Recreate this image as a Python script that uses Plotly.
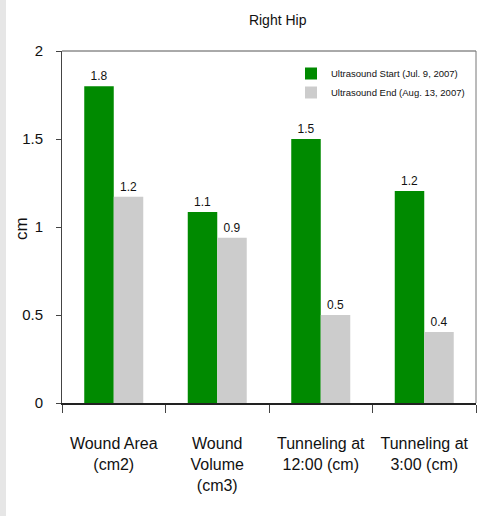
import plotly.graph_objects as go

categories = ["Wound Area<br>(cm2)", "Wound<br>Volume<br>(cm3)", "Tunneling at<br>12:00 (cm)", "Tunneling at<br>3:00 (cm)"]
start_values = [1.80, 1.085, 1.50, 1.205]
end_values = [1.172, 0.939, 0.50, 0.403]
series_names = ["Ultrasound Start (Jul. 9, 2007)", "Ultrasound End (Aug. 13, 2007)"]
y_ticks = [0, 0.5, 1, 1.5, 2]
y_title = "cm"

FONT = "Liberation Sans, Arial, sans-serif"
W, H = 477, 516
ML, MR, MT, MB = 62, 1, 51, 113
PW = W - ML - MR
PH = H - MT - MB

fig = go.Figure()
for vals, name, color in [(start_values, series_names[0], "#008a00"),
                          (end_values, series_names[1], "#cccccc")]:
    fig.add_trace(go.Bar(
        x=categories, y=vals, name=name,
        marker=dict(color=color, line=dict(width=0)),
        texttemplate="%{y:.1f}", textposition="outside",
        textfont=dict(family=FONT, size=12, color="#111111"), cliponaxis=False,
    ))

fig.update_layout(
    width=W, height=H,
    margin=dict(l=ML, r=MR, t=MT, b=MB, pad=0, autoexpand=False),
    paper_bgcolor="white", plot_bgcolor="white",
    barmode="group", bargap=0.43, bargroupgap=0,
    font=dict(family=FONT, color="#111111"),
    title=dict(text="Right Hip", x=248.5 / W, xref="paper", xanchor="center",
               y=1 - 20 / H, yanchor="middle",
               font=dict(family=FONT, size=14, color="#111111")),
    showlegend=True,
    legend=dict(x=(291 - ML) / PW, y=1 - 8 / PH, xanchor="left", yanchor="top",
                bgcolor="rgba(0,0,0,0)", borderwidth=0,
                font=dict(family=FONT, size=9.5, color="#111111"),
                tracegroupgap=2),
    xaxis=dict(
        automargin=False, tickangle=0,
        showline=True, linecolor="#222222", linewidth=2,
        ticks="outside", tickson="boundaries", ticklen=8, tickcolor="#444444", tickwidth=1,
        tickfont=dict(family=FONT, size=16, color="#111111"),
        ticklabelstandoff=25, showgrid=False,
    ),
    yaxis=dict(
        automargin=False,
        range=[0, 2], tickvals=y_ticks, showline=True, linecolor="#444444", linewidth=1,
        ticks="outside", ticklen=5, tickcolor="#444444", tickwidth=1,
        tickfont=dict(family=FONT, size=15, color="#111111"),
        ticklabelstandoff=10, showgrid=False, zeroline=False,
    ),
    annotations=[
        dict(text=y_title, textangle=-90, xref="paper", yref="paper",
             x=(22 - ML) / PW, y=(403 - 229) / PH, xanchor="center", yanchor="middle",
             showarrow=False, font=dict(family=FONT, size=17, color="#111111")),
    ],
    shapes=[
        dict(type="rect", xref="paper", yref="paper", x0=-ML / PW, x1=-(ML - 6) / PW,
             y0=-MB / PH, y1=1 + MT / PH, fillcolor="#e6e6e6", line=dict(width=0), layer="below"),
        dict(type="line", xref="paper", yref="paper", x0=0, x1=1, y0=1, y1=1,
             line=dict(color="#555555", width=1)),
        dict(type="line", xref="paper", yref="paper", x0=1, x1=1, y0=0, y1=1,
             line=dict(color="#777777", width=1)),
    ],
)

fig.write_html("out.html", config={"displayModeBar": False},
               post_script="document.body.style.margin='0';")
